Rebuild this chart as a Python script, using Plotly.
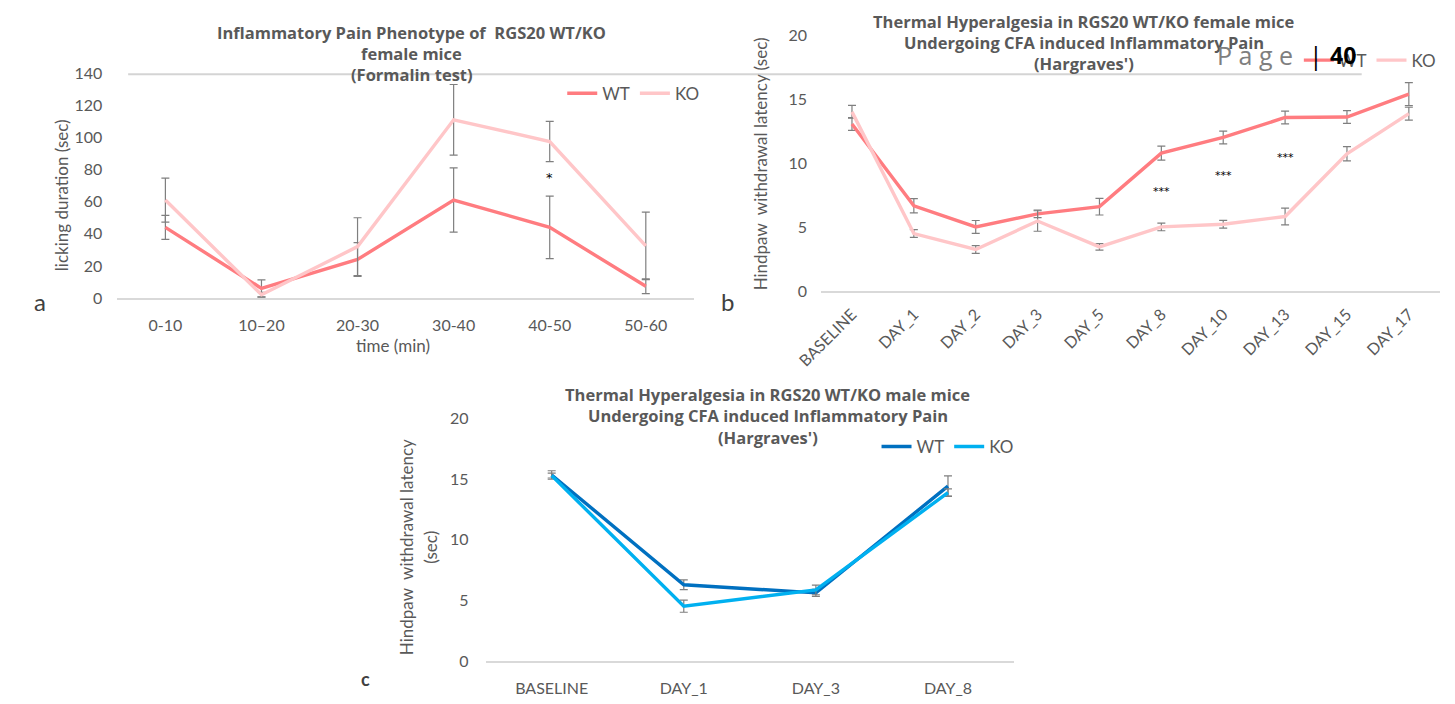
import plotly.graph_objects as go

W, H = 1455, 704

# ---------------- data ----------------
cats_a = ["0-10", "10\u201320", "20-30", "30-40", "40-50", "50-60"]
wt_a = [44, 6, 24, 61, 44, 7.3]
wt_a_err = [7.5, 5.3, 10.5, 20, 19.5, 4.6]
ko_a = [61, 2, 32, 111, 97.5, 32.5]
ko_a_err = [13.7, 1.5, 18, 22, 12.5, 21]
sig_a = [("40-50", 75, "*")]

cats_b = ["BASELINE", "DAY_1", "DAY_2", "DAY_3", "DAY_5", "DAY_8", "DAY_10", "DAY_13", "DAY_15", "DAY_17"]
wt_b = [13.05, 6.67, 5.02, 6.04, 6.6, 10.78, 12.0, 13.56, 13.6, 15.38]
wt_b_err = [0.5, 0.55, 0.5, 0.3, 0.65, 0.55, 0.5, 0.5, 0.5, 0.9]
ko_b = [14.0, 4.5, 3.26, 5.48, 3.46, 5.02, 5.23, 5.83, 10.73, 13.86]
ko_b_err = [0.5, 0.3, 0.3, 0.8, 0.25, 0.3, 0.3, 0.65, 0.55, 0.5]
sig_b = [("DAY_8", 7.8, "***"), ("DAY_10", 9.07, "***"), ("DAY_13", 10.45, "***")]

cats_c = ["BASELINE", "DAY_1", "DAY_3", "DAY_8"]
wt_c = [15.35, 6.29, 5.62, 14.43]
wt_c_err = [0.35, 0.4, 0.3, 0.85]
ko_c = [15.3, 4.52, 5.86, 13.9]
ko_c_err = [0.2, 0.5, 0.4, 0.3]

# ---------------- style ----------------
RED, PINK = "#FF7C80", "#FFC6C8"
DBLUE, LBLUE = "#0070C0", "#00B0F0"
ERR = "#7F7F7F"
TXT = "#595959"
TICKFONT = dict(family="Lato, 'Open Sans', sans-serif", size=16, color=TXT)
LEGFONT = dict(family="Lato, sans-serif", size=17, color=TXT)


def px(x):
    return x / W


def py(y):
    return 1 - y / H


fig = go.Figure()


def add_series(x, y, err, color, name, xa, ya, legend):
    fig.add_trace(go.Scatter(
        x=x, y=y, mode="lines", name=name,
        line=dict(color=color, width=3.4),
        error_y=dict(type="data", array=err, visible=True, color=ERR, thickness=1.2, width=4),
        xaxis=xa, yaxis=ya, legend=legend, showlegend=True,
    ))


add_series(cats_a, wt_a, wt_a_err, RED, "WT", "x", "y", "legend")
add_series(cats_a, ko_a, ko_a_err, PINK, "KO", "x", "y", "legend")
add_series(cats_b, wt_b, wt_b_err, RED, "WT", "x2", "y2", "legend2")
add_series(cats_b, ko_b, ko_b_err, PINK, "KO", "x2", "y2", "legend2")
add_series(cats_c, wt_c, wt_c_err, DBLUE, "WT", "x3", "y3", "legend3")
add_series(cats_c, ko_c, ko_c_err, LBLUE, "KO", "x3", "y3", "legend3")

xcommon = dict(showgrid=False, showline=True, linecolor="#D9D9D9", linewidth=1.5,
               ticks="", tickfont=TICKFONT, zeroline=False, fixedrange=True)
ycommon = dict(showgrid=False, showline=False, ticks="", tickfont=TICKFONT,
               zeroline=False, fixedrange=True)

legcommon = dict(orientation="h", xanchor="left", yanchor="middle", font=LEGFONT,
                 bgcolor="rgba(0,0,0,0)", itemwidth=30)

fig.update_layout(
    width=W, height=H, autosize=False,
    margin=dict(l=0, r=0, t=0, b=0),
    paper_bgcolor="white", plot_bgcolor="rgba(0,0,0,0)",
    xaxis=dict(domain=[px(93), px(680)], range=[-0.5, 5.5], anchor="y",
               ticklabelstandoff=12, **xcommon),
    yaxis=dict(domain=[py(296), py(65)], range=[0, 140], dtick=20, anchor="x",
               ticklabelstandoff=14, **ycommon),
    xaxis2=dict(domain=[px(809.5), px(1439.5)], range=[-0.5, 9.5], anchor="y2",
                tickangle=-45, ticklabelstandoff=6, **xcommon),
    yaxis2=dict(domain=[py(289), py(25.7)], range=[0, 20], dtick=5, anchor="x2",
                ticklabelstandoff=13, **ycommon),
    xaxis3=dict(domain=[px(468), px(1006)], range=[-0.5, 3.5], anchor="y3",
                ticklabelstandoff=12, **xcommon),
    yaxis3=dict(domain=[py(669), py(420)], range=[0, 20], dtick=5, anchor="x3",
                ticklabelstandoff=16, **ycommon),
    legend=dict(x=px(546), y=py(86), **legcommon),
    legend2=dict(x=px(1296), y=py(52), **legcommon),
    legend3=dict(x=px(866), y=py(449), **legcommon),
)

# header line of the page
fig.add_shape(type="line", xref="paper", yref="paper", x0=px(104), x1=px(1360),
              y0=py(66), y1=py(66), line=dict(color="#D4D4D4", width=2), layer="below")

ann = []


def text(x, y, s, font, angle=0, xanchor="center"):
    ann.append(dict(x=px(x), y=py(y), xref="paper", yref="paper", text=s, showarrow=False,
                    font=font, textangle=angle, xanchor=xanchor, yanchor="middle"))


bold = dict(family="'Open Sans', sans-serif", size=16.5, color=TXT, weight="bold")
# titles
for i, s in enumerate(["Inflammatory Pain Phenotype of  RGS20 WT/KO", "female mice", "(Formalin test)"]):
    text(393, 23 + 21.5 * i, "<b>%s</b>" % s, bold)
for i, s in enumerate(["Thermal Hyperalgesia in RGS20 WT/KO female mice",
                       "Undergoing CFA induced Inflammatory Pain", "(Hargraves')"]):
    text(1077, 12 + 21.5 * i, "<b>%s</b>" % s, bold)
for i, s in enumerate(["Thermal Hyperalgesia in RGS20 WT/KO male mice",
                       "Undergoing CFA induced Inflammatory Pain", "(Hargraves')"]):
    text(755, 395 + 22 * i, "<b>%s</b>" % s, bold)

axfont = dict(family="Lato, sans-serif", size=17, color=TXT)
text(37, 190, "licking duration (sec)", axfont, angle=-90)
text(374, 345, "time (min)", axfont)
text(748, 158, "Hindpaw  withdrawal latency (sec)", axfont, angle=-90)
text(387, 552, "Hindpaw  withdrawal latency", axfont, angle=-90)
text(411, 552, "(sec)", axfont, angle=-90)

# panel letters
letter = dict(family="Lato, sans-serif", size=24, color="#404040")
text(14, 300, "a", letter)
text(714, 300, "b", letter)
text(346, 688, "c", dict(family="Lato, sans-serif", size=18, color="#404040", weight="bold"))

# significance marks
for c, v, s in sig_a:
    ann.append(dict(x=c, y=v, xref="x", yref="y", text=s, showarrow=False,
                    font=dict(family="DejaVu Sans", size=13, color="black")))
for c, v, s in sig_b:
    ann.append(dict(x=c, y=v, xref="x2", yref="y2", text=s, showarrow=False,
                    font=dict(family="DejaVu Sans", size=11, color="black")))

# page number
text(1251, 46, "P a g e", dict(family="'Open Sans', sans-serif", size=25, color="#7F7F7F"))
text(1313, 46, "|", dict(family="'Open Sans', sans-serif", size=25, color="black"))
text(1341, 46, "<b>40</b>", dict(family="'Open Sans', sans-serif", size=23, color="black"))

fig.update_layout(annotations=ann)
fig.write_html("out.html")
